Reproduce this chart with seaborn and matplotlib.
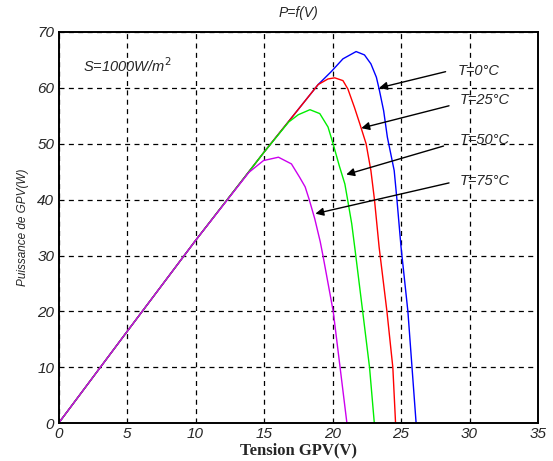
import numpy as np
import pandas as pd
import matplotlib
matplotlib.use("Agg")
import matplotlib.pyplot as plt
import seaborn as sns

# P-V curves (V in volts, P in watts)
v_t0 = [0, 5, 10, 15, 18.95, 19.9, 20.76, 21.72, 22.33, 22.8, 23.2, 23.4, 23.73, 24.0,
        24.5, 24.7, 25.0, 25.5, 25.8, 26.1]
p_t0 = [0, 16.4, 32.7, 48.5, 60.6, 62.9, 65.2, 66.5, 65.9, 64.3, 61.9, 59.8, 55.9, 51.2,
        45.2, 40, 31.5, 20, 10, 0]

v_t25 = [0, 5, 10, 15, 18.95, 19.67, 20.16, 20.76, 21.12, 21.6, 22.0, 22.45, 22.8, 23.06, 23.4,
         23.97, 24.4, 24.6]
p_t25 = [0, 16.4, 32.7, 48.5, 60.6, 61.6, 61.8, 61.3, 59.8, 56.5, 53.5, 50, 45.2, 40, 31.5,
         20, 10, 0]

v_t50 = [0, 5, 10, 15, 16.8, 17.5, 18.35, 19.07, 19.67, 20.04, 20.5, 20.9, 21.1, 21.4, 21.65,
         22.2, 22.7, 23.05]
p_t50 = [0, 16.4, 32.7, 48.5, 53.9, 55.2, 56.1, 55.4, 53, 50, 46.0, 42.8, 40, 35.7, 30.9,
         20, 10, 0]

v_t75 = [0, 5, 10, 13.9, 14.96, 16.05, 17.0, 17.6, 18.0, 18.3, 18.7, 19.1, 19.3, 20.05, 20.55, 21.05]
p_t75 = [0, 16.4, 32.7, 44.9, 47.0, 47.6, 46.4, 44.0, 42.3, 40, 36.6, 32.5, 30, 20, 10, 0]

labels = ["T=0°C", "T=25°C", "T=50°C", "T=75°C"]
colors = ["#0000ff", "#ff0000", "#00ee00", "#cc00ee"]

# annotation text position, arrow tail and arrow head (data coords)
text_pos = [(29.1, 63.1), (29.3, 57.9), (29.3, 50.7), (29.3, 43.3)]
arrow_tail = [(28.25, 62.9), (28.5, 56.8), (28.1, 49.6), (28.5, 43.0)]
arrow_head = [(23.4, 60.0), (22.1, 52.8), (21.0, 44.5), (18.75, 37.5)]

frames = []
for v, p, lab in zip([v_t0, v_t25, v_t50, v_t75], [p_t0, p_t25, p_t50, p_t75], labels):
    frames.append(pd.DataFrame({"V": v, "P": p, "T": lab}))
df = pd.concat(frames, ignore_index=True)

sns.set_style("white")
plt.rcParams['font.family'] = ['Liberation Sans', 'DejaVu Sans']

fig = plt.figure(figsize=(5.53, 4.61), dpi=100)
ax = fig.add_axes([0.1058, 0.0818, 0.8672, 0.8488])

sns.lineplot(data=df, x="V", y="P", hue="T", palette=colors, sort=False,
             estimator=None, legend=False, linewidth=1.0, ax=ax)

ax.set_xlim(0, 35)
ax.set_ylim(0, 70)
ax.set_xticks(np.arange(0, 36, 5))
ax.set_yticks(np.arange(0, 71, 10))
ax.grid(True, color="black", linestyle=(0, (4, 3.5)), linewidth=0.9)
ax.set_axisbelow(True)
for s in ax.spines.values():
    s.set_color("black")
    s.set_linewidth(1.4)
ax.tick_params(direction="in", length=4, width=1, labelsize=11, pad=3)
for lbl in ax.get_xticklabels() + ax.get_yticklabels():
    lbl.set_fontstyle("italic")

ax.set_title("P=f(V)", fontstyle="italic", fontsize=10, pad=11)
ax.set_xlabel("Tension GPV(V)", fontfamily="Liberation Serif", fontweight="bold",
              fontsize=12, labelpad=1)
ax.set_ylabel("Puissance de GPV(W)", fontstyle="italic", fontsize=8.5, labelpad=6)

ax.text(1.8, 64, "S=1000W/m$^{2}$", fontstyle="italic", fontsize=10.5, va="center")

for lab, tp, tail, head in zip(labels, text_pos, arrow_tail, arrow_head):
    ax.annotate("", xy=head, xytext=tail,
                arrowprops=dict(arrowstyle="-|>", color="black", lw=1.0,
                                mutation_scale=12, shrinkA=0, shrinkB=0))
    ax.text(tp[0], tp[1], lab, fontstyle="italic", fontsize=10.5, va="center")

fig.savefig("out.png", dpi=100)
